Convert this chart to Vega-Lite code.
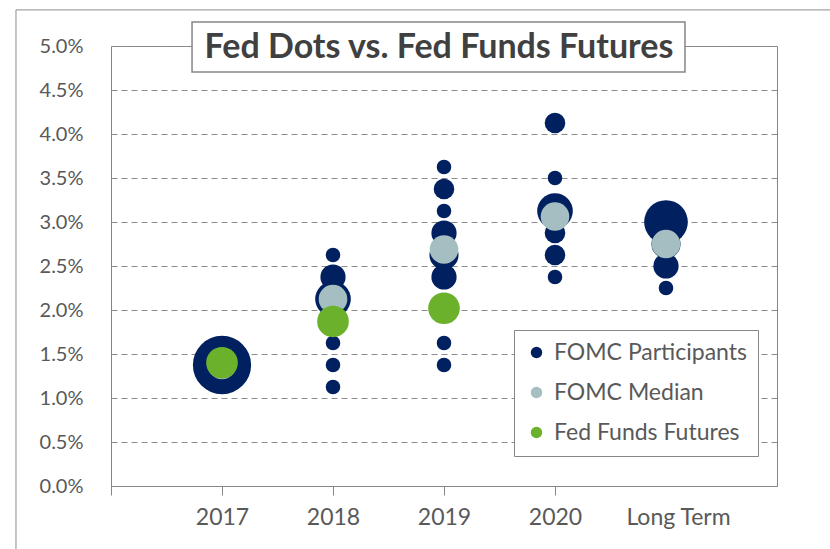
{
  "$schema": "https://vega.github.io/schema/vega-lite/v6.json",
  "width": 666,
  "height": 440,
  "autosize": {"type": "none"},
  "padding": {"left": 111, "top": 46, "right": 53, "bottom": 63},
  "background": "white",
  "config": {
    "font": "Lato",
    "view": {"stroke": "#868686", "strokeWidth": 1}
  },
  "datasets": {
    "dots": [
      {"series": "FOMC Participants", "period": "2017", "rate": 0.01375, "count": 16},
      {"series": "FOMC Participants", "period": "2018", "rate": 0.02625, "count": 1},
      {"series": "FOMC Participants", "period": "2018", "rate": 0.02375, "count": 3},
      {"series": "FOMC Participants", "period": "2018", "rate": 0.02125, "count": 6},
      {"series": "FOMC Participants", "period": "2018", "rate": 0.01875, "count": 3},
      {"series": "FOMC Participants", "period": "2018", "rate": 0.01625, "count": 1},
      {"series": "FOMC Participants", "period": "2018", "rate": 0.01375, "count": 1},
      {"series": "FOMC Participants", "period": "2018", "rate": 0.01125, "count": 1},
      {"series": "FOMC Participants", "period": "2019", "rate": 0.03625, "count": 1},
      {"series": "FOMC Participants", "period": "2019", "rate": 0.03375, "count": 2},
      {"series": "FOMC Participants", "period": "2019", "rate": 0.03125, "count": 1},
      {"series": "FOMC Participants", "period": "2019", "rate": 0.02875, "count": 3},
      {"series": "FOMC Participants", "period": "2019", "rate": 0.02625, "count": 4},
      {"series": "FOMC Participants", "period": "2019", "rate": 0.02375, "count": 3},
      {"series": "FOMC Participants", "period": "2019", "rate": 0.01625, "count": 1},
      {"series": "FOMC Participants", "period": "2019", "rate": 0.01375, "count": 1},
      {"series": "FOMC Participants", "period": "2020", "rate": 0.04125, "count": 2},
      {"series": "FOMC Participants", "period": "2020", "rate": 0.035, "count": 1},
      {"series": "FOMC Participants", "period": "2020", "rate": 0.03125, "count": 6},
      {"series": "FOMC Participants", "period": "2020", "rate": 0.02875, "count": 2},
      {"series": "FOMC Participants", "period": "2020", "rate": 0.02625, "count": 2},
      {"series": "FOMC Participants", "period": "2020", "rate": 0.02375, "count": 1},
      {"series": "FOMC Participants", "period": "Long Term", "rate": 0.03, "count": 9},
      {"series": "FOMC Participants", "period": "Long Term", "rate": 0.0275, "count": 4},
      {"series": "FOMC Participants", "period": "Long Term", "rate": 0.025, "count": 3},
      {"series": "FOMC Participants", "period": "Long Term", "rate": 0.0225, "count": 1},
      {"series": "FOMC Median", "period": "2017", "rate": 0.01375},
      {"series": "FOMC Median", "period": "2018", "rate": 0.02125},
      {"series": "FOMC Median", "period": "2019", "rate": 0.026875},
      {"series": "FOMC Median", "period": "2020", "rate": 0.030625},
      {"series": "FOMC Median", "period": "Long Term", "rate": 0.0275},
      {"series": "Fed Funds Futures", "period": "2017", "rate": 0.0140},
      {"series": "Fed Funds Futures", "period": "2018", "rate": 0.0187},
      {"series": "Fed Funds Futures", "period": "2019", "rate": 0.0202}
    ],
    "note": [{"title": "Fed Dots vs. Fed Funds Futures"}]
  },
  "layer": [
    {
      "data": {"name": "note"},
      "mark": {"type": "rect", "fill": "white", "fillOpacity": 0, "stroke": "#8c8c8c", "strokeWidth": 1, "clip": false},
      "encoding": {
        "x": {"datum": -0.856, "type": "quantitative", "scale": {"domain": [0, 6]}, "axis": null},
        "x2": {"datum": 6.9},
        "y": {"datum": 0.0541, "type": "quantitative", "scale": {"domain": [0, 0.05]}},
        "y2": {"datum": -0.012}
      }
    },
    {
      "data": {"name": "dots"},
      "layer": [
        {
          "transform": [{"filter": "datum.series == 'FOMC Participants'"}],
          "mark": {"type": "circle", "opacity": 1},
          "encoding": {
            "x": {
              "field": "period", "type": "ordinal",
              "scale": {"type": "point", "domain": ["s", "2017", "2018", "2019", "2020", "Long Term", "e"], "padding": 0},
              "axis": {
                "title": null,
                "labelExpr": "datum.value == 's' || datum.value == 'e' ? '' : datum.value",
                "labelAngle": 0,
                "labelFont": "Lato",
                "labelFontSize": 23,
                "labelColor": "#595959",
                "labelPadding": 11,
                "labelOffset": {"condition": {"test": "datum.value == 'Long Term'", "value": 12}, "value": 0},
                "tickOpacity": {"condition": {"test": "datum.value == 'Long Term' || datum.value == 'e'", "value": 0}, "value": 1},
                "domainColor": "#868686",
                "tickColor": "#868686",
                "tickSize": 9,
                "grid": false
              }
            },
            "y": {
              "field": "rate", "type": "quantitative",
              "scale": {"domain": [0, 0.05]},
              "axis": {
                "title": null,
                "format": ".1%",
                "values": [0, 0.005, 0.01, 0.015, 0.02, 0.025, 0.03, 0.035, 0.04, 0.045, 0.05],
                "labelFont": "Lato",
                "labelFontSize": 20,
                "labelColor": "#595959",
                "labelPadding": 28,
                "domain": false,
                "ticks": false,
                "grid": true,
                "gridColor": "#8c8c8c",
                "gridDash": [6, 4],
                "gridWidth": 1
              }
            },
            "size": {"field": "count", "type": "quantitative", "scale": {"domain": [0, 16], "range": [0, 3392]}, "legend": null},
            "color": {
              "field": "series", "type": "nominal",
              "scale": {"domain": ["FOMC Participants", "FOMC Median", "Fed Funds Futures"], "range": ["#002060", "#A4BEC1", "#6BB12B"]},
              "legend": {
                "title": null,
                "orient": "none",
                "legendX": 403,
                "legendY": 284,
                "padding": 11,
                "strokeColor": "#868686",
                "fillColor": "white",
                "symbolType": "circle",
                "symbolSize": 130,
                "symbolOpacity": 1,
                "labelFont": "Lato",
                "labelFontSize": 23,
                "labelColor": "#595959",
                "labelOffset": 6,
                "labelLimit": 400,
                "rowPadding": 16
              }
            }
          }
        },
        {
          "transform": [{"filter": "datum.series == 'FOMC Median'"}],
          "mark": {"type": "circle", "opacity": 1, "size": 820},
          "encoding": {
            "x": {"field": "period", "type": "ordinal"},
            "y": {"field": "rate", "type": "quantitative"},
            "color": {"field": "series", "type": "nominal"}
          }
        },
        {
          "transform": [{"filter": "datum.series == 'Fed Funds Futures'"}],
          "mark": {"type": "circle", "opacity": 1, "size": 1000},
          "encoding": {
            "x": {"field": "period", "type": "ordinal"},
            "y": {"field": "rate", "type": "quantitative"},
            "color": {"field": "series", "type": "nominal"}
          }
        }
      ]
    },
    {
      "data": {"name": "note"},
      "mark": {"type": "rect", "fill": "white", "stroke": "#868686", "strokeWidth": 1.5, "clip": false},
      "encoding": {
        "x": {"datum": 0.73, "type": "quantitative", "scale": {"domain": [0, 6]}, "axis": null},
        "x2": {"datum": 5.171},
        "y": {"datum": 0.05273, "type": "quantitative", "scale": {"domain": [0, 0.05]}},
        "y2": {"datum": 0.04705}
      }
    },
    {
      "data": {"name": "note"},
      "mark": {"type": "text", "font": "Lato", "fontWeight": "bold", "fontSize": 34, "color": "#404040", "align": "center", "baseline": "middle", "clip": false},
      "encoding": {
        "x": {"datum": 2.955, "type": "quantitative", "scale": {"domain": [0, 6]}, "axis": null},
        "y": {"datum": 0.04977, "type": "quantitative", "scale": {"domain": [0, 0.05]}},
        "text": {"field": "title"}
      }
    }
  ],
  "resolve": {"scale": {"x": "independent"}}
}
